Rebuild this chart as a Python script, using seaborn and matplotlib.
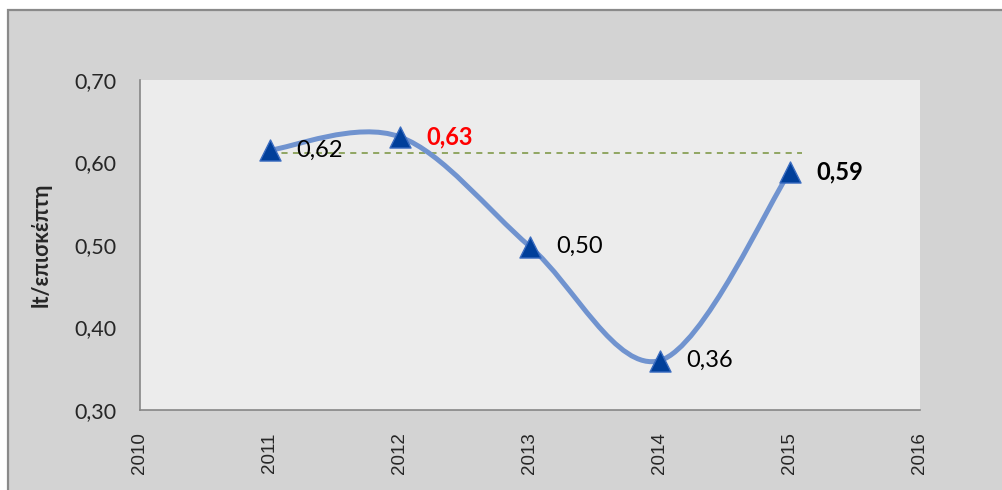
import numpy as np
import pandas as pd
import matplotlib
matplotlib.use("Agg")
import matplotlib.pyplot as plt
import seaborn as sns
from matplotlib.path import Path
from matplotlib.patches import PathPatch, Rectangle

# ---- data ----
years = [2011, 2012, 2013, 2014, 2015]
values = [0.615, 0.631, 0.498, 0.360, 0.589]
value_labels = ["0,62", "0,63", "0,50", "0,36", "0,59"]
label_colors = ["black", "#ff0000", "black", "black", "black"]
label_weights = ["normal", "bold", "normal", "normal", "bold"]
reference_value = 0.612
reference_span = [2011, 2015.09]
x_ticks = [2010, 2011, 2012, 2013, 2014, 2015, 2016]
y_ticks = [0.30, 0.40, 0.50, 0.60, 0.70]
y_tick_labels = ["0,30", "0,40", "0,50", "0,60", "0,70"]
y_label = "lt/επισκέπτη"

df = pd.DataFrame({"year": years, "value": values})

sns.set_style("white")
plt.rcParams["font.family"] = ["Lato", "DejaVu Sans"]

fig = plt.figure(figsize=(10.03, 4.9), dpi=100)
fig.patch.set_facecolor("white")
# outer chart frame
fig.patches.append(Rectangle((8 / 1003, -0.05), 1.2, (480 / 490) + 0.05,
                             transform=fig.transFigure, facecolor="#d3d3d3",
                             edgecolor="#8a8a8a", linewidth=1.6, zorder=-10))

ax = fig.add_axes([140 / 1003, 80 / 490, 780 / 1003, 330 / 490])
ax.set_zorder(1)
ax.set_facecolor("#ececec")

# smoothed line (Catmull-Rom style Bezier, like spreadsheet smoothing)
pts = np.column_stack([df["year"].to_numpy(float), df["value"].to_numpy(float)])
n = len(pts)
verts = [tuple(pts[0])]
codes = [Path.MOVETO]
for i in range(n - 1):
    prev = pts[max(i - 1, 0)]
    nxt = pts[min(i + 2, n - 1)]
    c1 = pts[i] + (pts[i + 1] - prev) / 6.0
    c2 = pts[i + 1] - (nxt - pts[i]) / 6.0
    verts += [tuple(c1), tuple(c2), tuple(pts[i + 1])]
    codes += [Path.CURVE4] * 3
ax.add_patch(PathPatch(Path(verts, codes), facecolor="none", edgecolor="#7093cf",
                       linewidth=3.6, capstyle="round", joinstyle="round", zorder=3))

# reference dashed line
ax.plot(reference_span, [reference_value, reference_value], color="#77933c",
        linewidth=1.1, dashes=(4, 3.5), zorder=2)

# markers
sns.scatterplot(data=df, x="year", y="value", marker="^", s=230,
                color="#003f9a", edgecolor="#3a6cc0", linewidth=1.0, ax=ax, zorder=4)

for x, y, t, c, w in zip(years, values, value_labels, label_colors, label_weights):
    ax.annotate(t, (x, y), xytext=(19, 0), textcoords="offset points",
                ha="left", va="center", fontsize=17, color=c, fontweight=w, zorder=5)

ax.set_xlim(2010, 2016)
ax.set_ylim(0.30, 0.70)
ax.set_xlabel("")
ax.set_ylabel("")
ax.tick_params(axis="x", direction="in", length=4.5, width=1.0, color="#868686", pad=16,
               labelsize=13.5, labelfontfamily="Liberation Sans", labelrotation=90)
ax.tick_params(axis="y", direction="out", length=5, width=1.0, color="#868686", pad=12,
               labelsize=15.5)
ax.set_xticks(x_ticks, [str(v) for v in x_ticks])
ax.set_yticks(y_ticks, y_tick_labels)
for s in ["top", "right"]:
    ax.spines[s].set_visible(False)
for s in ["left", "bottom"]:
    ax.spines[s].set_color("#868686")
    ax.spines[s].set_linewidth(1.2)

fig.text(41 / 1003, 0.5, y_label, rotation=90, ha="center", va="center",
         fontsize=15.5, fontweight="bold")

fig.savefig("out.png", dpi=100)
